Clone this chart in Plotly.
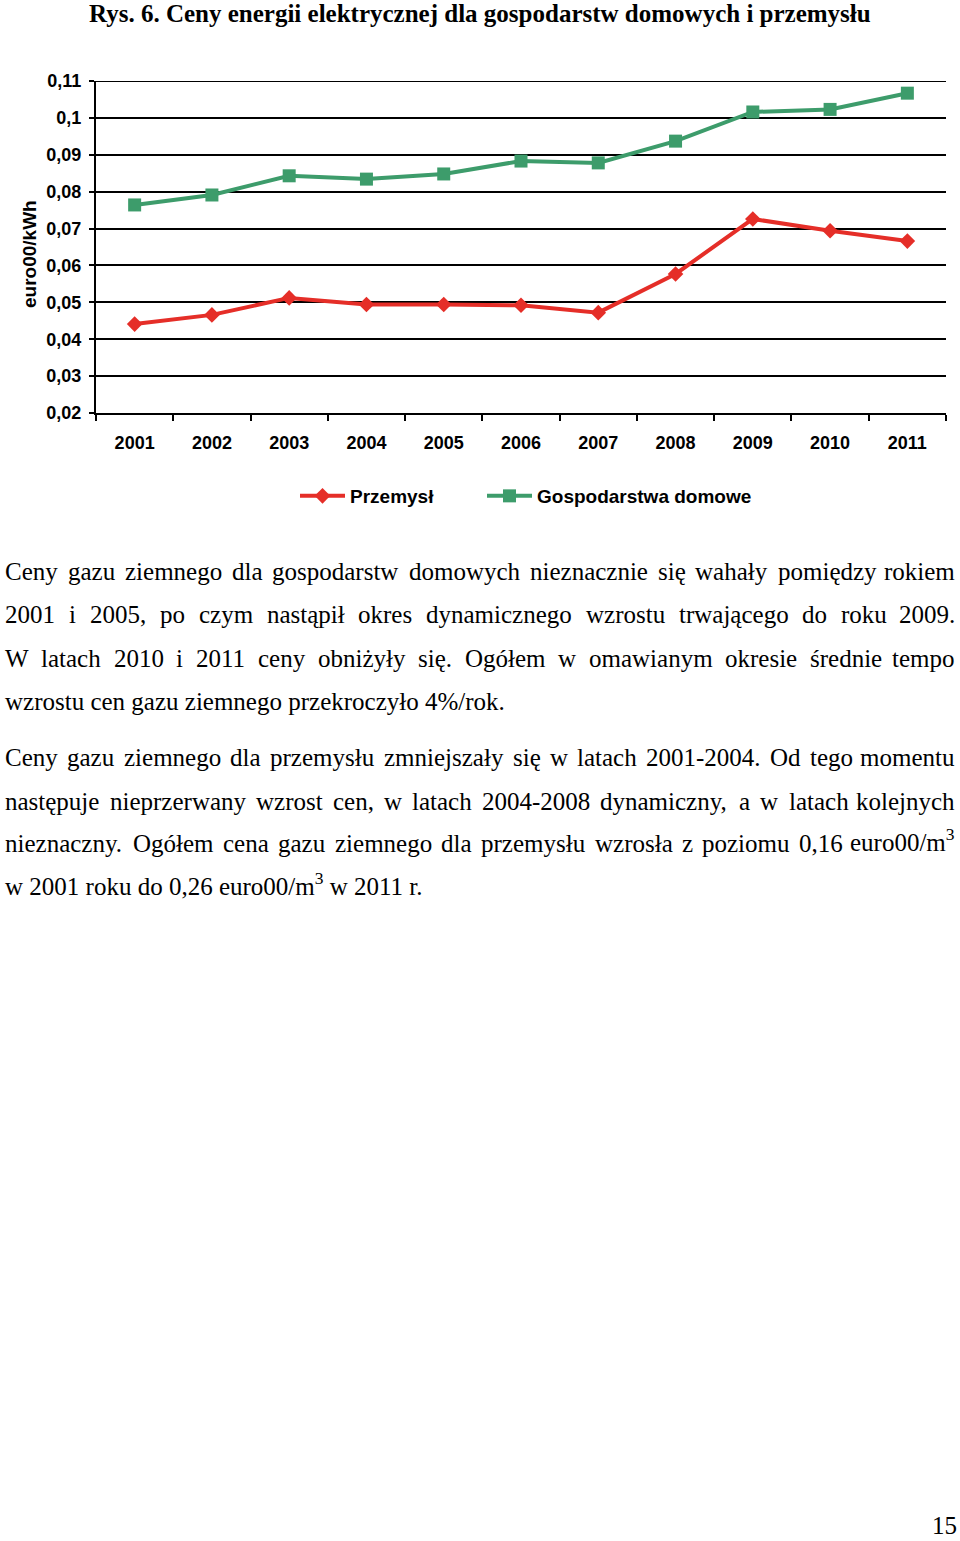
import plotly.graph_objects as go

# ---------------- data ----------------
years = ["2001", "2002", "2003", "2004", "2005", "2006", "2007", "2008", "2009", "2010", "2011"]
przemysl = [0.0441, 0.0466, 0.0512, 0.0494, 0.0494, 0.0492, 0.0472, 0.0577, 0.0726, 0.0694, 0.0666]
gospodarstwa = [0.0764, 0.0791, 0.0843, 0.0834, 0.0848, 0.0883, 0.0878, 0.0937, 0.1016, 0.1023, 0.1067]
y_tickvals = [0.02, 0.03, 0.04, 0.05, 0.06, 0.07, 0.08, 0.09, 0.10, 0.11]
y_ticktext = ["0,02", "0,03", "0,04", "0,05", "0,06", "0,07", "0,08", "0,09", "0,1", "0,11"]

title_text = "Rys. 6. Ceny energii elektrycznej dla gospodarstw domowych i przemysłu"
y_title = "euro00/kWh"
names = ["Przemysł", "Gospodarstwa domowe"]

# body text lines: (text, justified)
body_lines = [
    ("Ceny gazu ziemnego dla gospodarstw domowych nieznacznie się wahały pomiędzy rokiem", True),
    ("2001 i 2005, po czym nastąpił okres dynamicznego wzrostu trwającego do roku 2009.", True),
    ("W latach 2010 i 2011 ceny obniżyły się. Ogółem w omawianym okresie średnie tempo", True),
    ("wzrostu cen gazu ziemnego przekroczyło 4%/rok.", False),
    ("Ceny gazu ziemnego dla przemysłu zmniejszały się w latach 2001-2004. Od tego momentu", True),
    ("następuje nieprzerwany wzrost cen, w latach 2004-2008 dynamiczny, a w latach kolejnych", True),
    ("nieznaczny. Ogółem cena gazu ziemnego dla przemysłu wzrosła z poziomu 0,16 euro00/m<sup>3</sup>", True),
    ("w 2001 roku do 0,26 euro00/m<sup>3</sup> w 2011 r.", False),
]
page_number = "15"

# ---------------- layout geometry ----------------
W, H = 960, 1541
L, R, T, B = 96, 946, 81, 413  # plot area in pixels


def px_x(px):
    return (px - L) / (R - L)


def px_y(py):
    return (B - py) / (B - T)


# Times-Roman metrics (1/1000 em)
TW = {' ': 250, ',': 250, '.': 250, '-': 333, '/': 278, '%': 833, ':': 278,
      'A': 722, 'B': 667, 'C': 667, 'D': 722, 'E': 611, 'F': 556, 'G': 722, 'H': 722, 'I': 333,
      'J': 389, 'K': 722, 'L': 611, 'M': 889, 'N': 722, 'O': 722, 'P': 556, 'Q': 722, 'R': 667,
      'S': 556, 'T': 611, 'U': 722, 'V': 722, 'W': 944, 'X': 722, 'Y': 722, 'Z': 611,
      'a': 444, 'b': 500, 'c': 444, 'd': 500, 'e': 444, 'f': 333, 'g': 500, 'h': 500, 'i': 278,
      'j': 278, 'k': 500, 'l': 278, 'm': 778, 'n': 500, 'o': 500, 'p': 500, 'q': 500, 'r': 333,
      's': 389, 't': 278, 'u': 500, 'v': 500, 'w': 722, 'x': 500, 'y': 500, 'z': 444,
      'ą': 444, 'ę': 444, 'ł': 278, 'ó': 500, 'ś': 389, 'ż': 444, 'ź': 444, 'ć': 444, 'ń': 500,
      'Ó': 722, 'Ś': 556}
FS = 25


def word_width(w):
    total = 0
    sup = False
    i = 0
    while i < len(w):
        if w.startswith("<sup>", i):
            sup = True
            i += 5
            continue
        if w.startswith("</sup>", i):
            sup = False
            i += 6
            continue
        ch = w[i]
        cw = TW.get(ch, 500)
        total += cw * (0.7 if sup else 1.0)
        i += 1
    return total / 1000 * FS


RED = "#e52e28"
GREEN = "#3d9c6b"

fig = go.Figure()
fig.add_trace(go.Scatter(
    x=years, y=przemysl, name=names[0], mode="lines+markers",
    line=dict(color=RED, width=4),
    marker=dict(symbol="diamond", size=12, color=RED),
    legend="legend",
))
fig.add_trace(go.Scatter(
    x=years, y=gospodarstwa, name=names[1], mode="lines+markers",
    line=dict(color=GREEN, width=4),
    marker=dict(symbol="square", size=13, color=GREEN),
    legend="legend2",
))

axis_font = dict(family="Liberation Sans, Arial", size=18, color="black", weight="bold")
leg_font = dict(family="Liberation Sans, Arial", size=19, color="black", weight="bold")

y_top = y_tickvals[-1]

fig.update_layout(
    width=W, height=H,
    margin=dict(l=L, r=W - R, t=T, b=H - B, pad=0),
    paper_bgcolor="white", plot_bgcolor="white",
    showlegend=True,
    legend=dict(orientation="h", x=px_x(295), xanchor="left", y=px_y(496), yanchor="middle",
                font=leg_font, itemwidth=45, bgcolor="rgba(0,0,0,0)"),
    legend2=dict(orientation="h", x=px_x(482), xanchor="left", y=px_y(496), yanchor="middle",
                 font=leg_font, itemwidth=45, bgcolor="rgba(0,0,0,0)"),
    xaxis=dict(type="category", range=[-0.5, 10.5], tickson="boundaries", ticks="outside",
               ticklen=6, tickwidth=2, tickcolor="black", showgrid=False, showline=True,
               linecolor="black", linewidth=2, tickfont=axis_font, ticklabelstandoff=12,
               zeroline=False),
    yaxis=dict(range=[0.02, 0.11], tickvals=y_tickvals, ticktext=y_ticktext, ticks="outside",
               ticklen=5, tickwidth=2, tickcolor="black", showgrid=True, gridcolor="black",
               gridwidth=2, showline=True, linecolor="black", linewidth=2, tickfont=axis_font,
               zeroline=False, ticklabelstandoff=4),
    shapes=[dict(type="line", xref="paper", yref="y", x0=0, x1=1, y0=y_top, y1=y_top,
                 line=dict(color="black", width=2), layer="below")],
)

ann = []
# title
ann.append(dict(text=title_text, x=px_x(480), y=px_y(14), xref="paper", yref="paper",
                xanchor="center", yanchor="middle", showarrow=False,
                font=dict(family="Liberation Serif, Times New Roman", size=25, color="black",
                          weight="bold")))
# y title
ann.append(dict(text=y_title, x=px_x(29), y=px_y(254), xref="paper", yref="paper",
                xanchor="center", yanchor="middle", showarrow=False, textangle=-90,
                font=dict(family="Liberation Sans, Arial", size=19, color="black", weight="bold")))

# body text
line_y = [571, 614, 658, 701, 757, 801, 844, 887]
left_px, right_px = 4, 956
body_font = dict(family="Liberation Serif, Times New Roman", size=FS, color="black")


def add_word(text, xpx, ly, anchor):
    ys = 3.5 if "<sup>" in text else 0
    ann.append(dict(text=text, x=px_x(xpx), y=px_y(ly), xref="paper", yref="paper",
                    xanchor=anchor, yanchor="middle", showarrow=False, font=body_font,
                    borderpad=0, yshift=ys))


for (text, just), ly in zip(body_lines, line_y):
    if not just:
        add_word(text, left_px, ly, "left")
        continue
    words = text.split(" ")
    widths = [word_width(w) for w in words]
    gap = (right_px - left_px - sum(widths)) / (len(words) - 1)
    cx = left_px
    for i, (w, ww) in enumerate(zip(words, widths)):
        if i == len(words) - 1:
            add_word(w, right_px, ly, "right")
        else:
            add_word(w, cx, ly, "left")
        cx += ww + gap

# page number
ann.append(dict(text=page_number, x=px_x(944), y=px_y(1525), xref="paper", yref="paper",
                xanchor="center", yanchor="middle", showarrow=False, font=body_font, borderpad=0))

fig.update_layout(annotations=ann)
fig.write_html("out.html")
